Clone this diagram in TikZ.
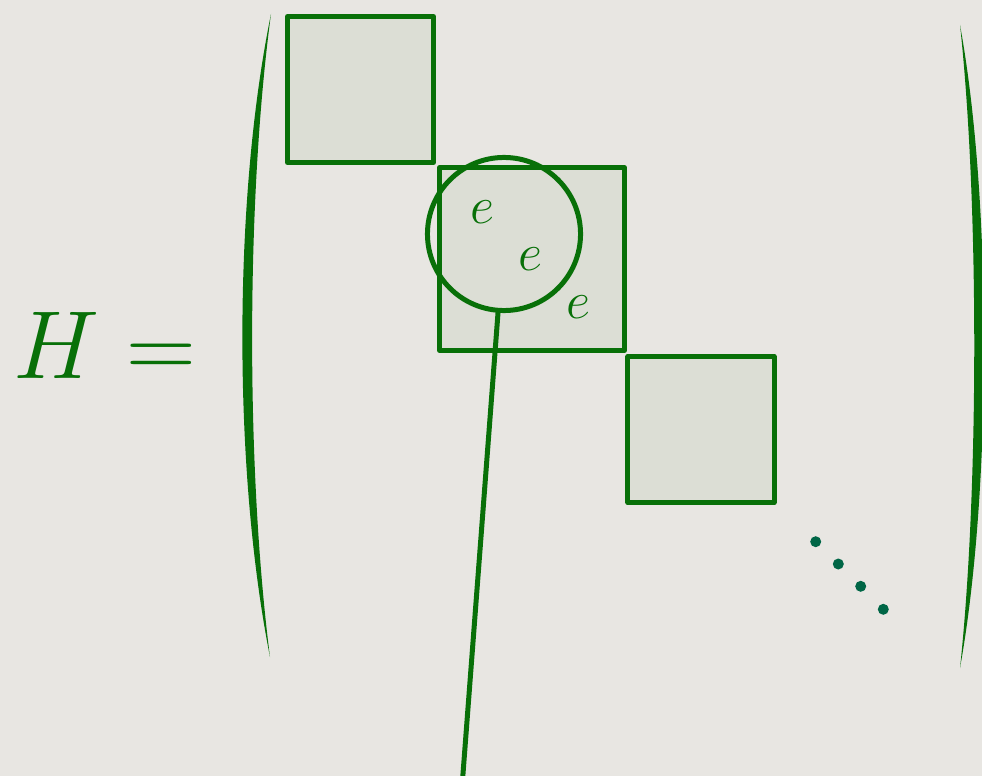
\RequirePackage{fix-cm}
\documentclass[tikz,border=0pt]{standalone}
\definecolor{hgreen}{RGB}{8,112,8}
\definecolor{hdots}{RGB}{0,102,70}
\definecolor{hback}{RGB}{232,230,226}
\definecolor{hfill}{RGB}{220,222,213}
\begin{document}
\begin{tikzpicture}[x=0.01cm, y=-0.01cm, line join=round, line cap=round,
		blk/.style={draw=hgreen, fill=hfill, line width=1.42pt, inner sep=0pt, minimum width=1.46cm, minimum height=1.46cm},
		lbl/.style={text=hgreen, font=\fontsize{15}{18}\selectfont, inner sep=0pt}]
	\fill[hback] (0,0) rectangle (982,776);
	\useasboundingbox (0,0) rectangle (982,776);
	% Blöcke auf der Diagonale
	\node[blk] (blk1) at (360.5,89.5) {};
	\node[blk, minimum width=1.845cm, minimum height=1.83cm] (blk2) at (532,259) {};
	\node[blk] (blk3) at (701,429.5) {};
	% Einträge im mittleren Block
	\node[lbl] (e1) at (482,212) {$e$};
	\node[lbl] (e2) at (530,259) {$e$};
	\node[lbl] (e3) at (578,307) {$e$};
	% Lupe mit Stiel
	\coordinate (tail) at (461,800);
	\node[circle, draw=hgreen, line width=1.42pt, minimum size=1.53cm, inner sep=0pt] (lens) at (504,234) {};
	\draw[hgreen, line width=1.42pt] (lens) -- (tail);
	% Punkte
	\foreach \px/\py in {815.7/541.7, 838.3/564, 860.7/586.3, 883.3/609.3}
	\fill[hdots] (\px,\py) circle (5.5);
	% Klammern
	\fill[hgreen] (271,14) .. controls (233,200) and (233,470) .. (270,657)
		.. controls (246,470) and (246,200) .. (271,14) -- cycle;
	\fill[hgreen] (960,25) .. controls (992,200) and (992,490) .. (960,668)
		.. controls (979,490) and (979,200) .. (960,25) -- cycle;
	% linke Seite
	\node[text=hgreen, font=\fontsize{27.5}{33}\selectfont, inner sep=0pt, anchor=base west] (lhs) at (13,378) {$H =$};
\end{tikzpicture}
\end{document}
